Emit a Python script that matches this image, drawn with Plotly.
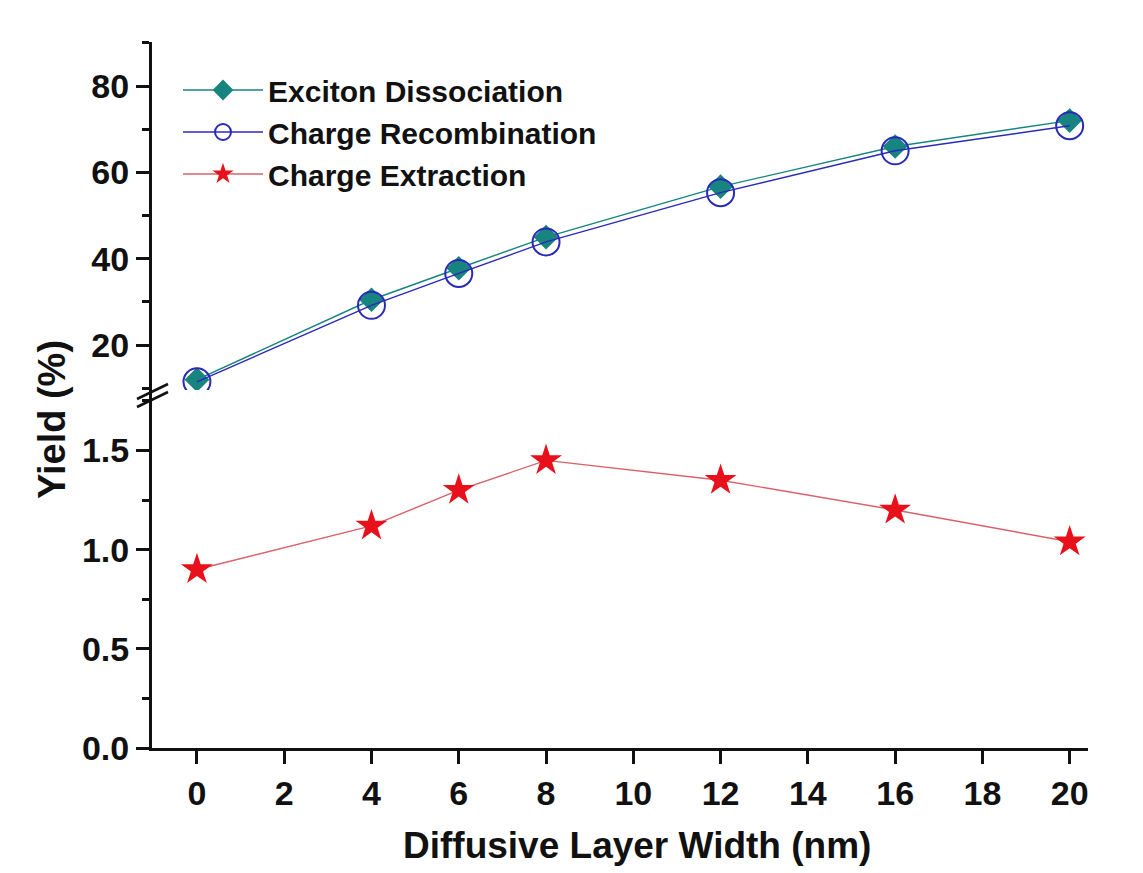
import plotly.graph_objects as go

width_nm = [0, 4, 6, 8, 12, 16, 20]
exciton_dissociation = [12.0, 30.5, 37.8, 45.0, 56.7, 66.0, 72.0]
charge_recombination = [11.5, 29.2, 36.6, 43.9, 55.3, 65.0, 70.8]
charge_extraction = [0.90, 1.12, 1.30, 1.45, 1.35, 1.20, 1.04]

x_ticks = [0, 2, 4, 6, 8, 10, 12, 14, 16, 18, 20]
upper_ticks = [20, 40, 60, 80]
lower_ticks = [0.0, 0.5, 1.0, 1.5]
lower_tick_text = ["0.0", "0.5", "1.0", "1.5"]

# page body has an 8px margin; plot area target in screen px
OFF = 8
W, H = 1143 - OFF, 873 - OFF
PL, PR, PT, PB = 152, 1088, 42, 748
ML, MT = PL - OFF, PT - OFF
MR, MB = (OFF + W) - PR, (OFF + H) - PB
PW, PH = PR - PL, PB - PT
split_px = 390
split = (PB - split_px) / PH


def px(xs):
    return (xs - PL) / PW


def py(ys):
    return (PB - ys) / PH


FONT = "Liberation Sans, Arial, sans-serif"
INK = "#111111"
TEAL = "#17847f"
BLUE = "#2a2ab8"
RED = "#e8101a"
RED_LINE = "#d8606a"

fig = go.Figure()
fig.add_trace(go.Scatter(
    x=width_nm, y=exciton_dissociation, name="Exciton Dissociation",
    mode="lines+markers", xaxis="x2", yaxis="y2",
    line=dict(color=TEAL, width=1.4),
    marker=dict(symbol="diamond", size=19, color=TEAL)))
fig.add_trace(go.Scatter(
    x=width_nm, y=charge_recombination, name="Charge Recombination",
    mode="lines+markers", xaxis="x2", yaxis="y2",
    line=dict(color=BLUE, width=1.4),
    marker=dict(symbol="circle-open", size=27, color=BLUE, line=dict(width=2))))
fig.add_trace(go.Scatter(
    x=width_nm, y=charge_extraction, name="Charge Extraction",
    mode="lines+markers", xaxis="x", yaxis="y",
    line=dict(color=RED_LINE, width=1.4),
    marker=dict(symbol="star", size=24, color=RED),
    cliponaxis=False))

tickfont = dict(family=FONT, size=34, color=INK, weight="bold")
xr = [-1.03, 20.42]

shapes = []
for dy in (0, 8):
    shapes.append(dict(type="line", xref="paper", yref="paper",
                       x0=px(137), x1=px(168),
                       y0=py(399 + dy), y1=py(384 + dy),
                       line=dict(color=INK, width=2.5)))

axis_common = dict(showline=True, linecolor=INK, linewidth=3, showgrid=False,
                   zeroline=False, tickfont=tickfont, tickcolor=INK,
                   ticks="outside", ticklen=13, tickwidth=2.5)

fig.update_layout(
    width=W, height=H,
    margin=dict(l=ML, r=MR, t=MT, b=MB),
    paper_bgcolor="white", plot_bgcolor="white",
    showlegend=True,
    legend=dict(x=px(178), y=py(64), xanchor="left", yanchor="top",
                font=dict(family=FONT, size=30, color=INK, weight="bold"),
                bgcolor="rgba(0,0,0,0)", itemwidth=80, tracegroupgap=0),
    xaxis=dict(domain=[0, 1], range=xr, anchor="y", tickvals=x_ticks,
               **axis_common),
    xaxis2=dict(domain=[0, 1], range=xr, anchor="y2", matches="x",
                showticklabels=False, ticks="", showline=False,
                showgrid=False, zeroline=False),
    yaxis=dict(domain=[0, split], range=[0, 1.805], anchor="x",
               tickvals=lower_ticks, ticktext=lower_tick_text,
               minor=dict(dtick=0.25, tick0=0, ticks="outside", ticklen=7,
                          tickwidth=2.5, tickcolor=INK),
               **axis_common),
    yaxis2=dict(domain=[split, 1], range=[9.6, 90.2], anchor="x2",
                tickvals=upper_ticks,
                minor=dict(dtick=10, tick0=0, ticks="outside", ticklen=7,
                           tickwidth=2.5, tickcolor=INK),
                **axis_common),
    shapes=shapes,
    annotations=[
        dict(text="<b>Diffusive Layer Width (nm)</b>", xref="paper", yref="paper",
             x=px(637), y=py(845), xanchor="center", yanchor="middle",
             showarrow=False, font=dict(family=FONT, size=37, color=INK)),
        dict(text="<b>Yield (%)</b>", xref="paper", yref="paper",
             x=px(52), y=py(420), xanchor="center", yanchor="middle",
             showarrow=False, textangle=-90,
             font=dict(family=FONT, size=38, color=INK)),
    ],
)

fig.write_html("out.html")
